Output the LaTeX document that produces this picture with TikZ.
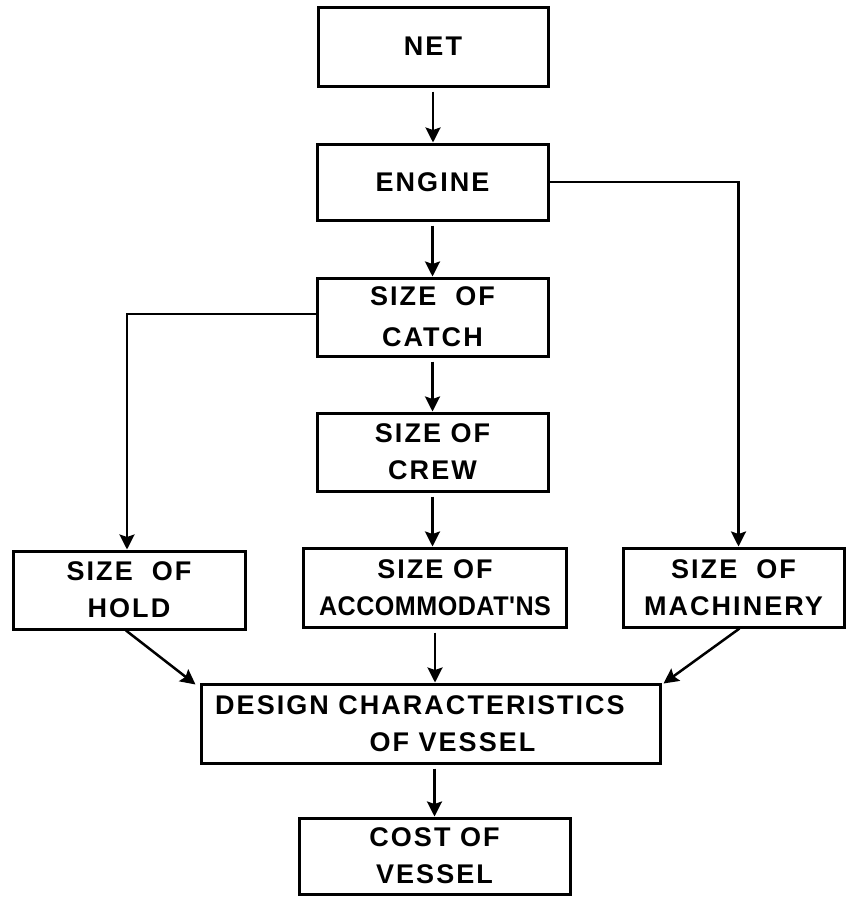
\documentclass[tikz,border=0pt]{standalone}
\usepackage{fontspec}
\newfontfamily\lblfont[LetterSpace=7.5]{Liberation Sans Bold}
\newfontfamily\lblnarrow[LetterSpace=2]{Liberation Sans Bold}
\usetikzlibrary{arrows.meta}
\begin{document}
\begin{tikzpicture}[x=1pt,y=-1pt,
  box/.style={draw, line width=3pt, inner sep=0pt, align=center,
    font={\lblfont\fontsize{27pt}{37pt}\selectfont}},
  arr/.style={line width=2.5pt, -{Stealth[length=15pt,width=15pt,inset=2.5pt]}},
  link/.style={line width=2.5pt}]
\useasboundingbox (0,0) rectangle (847,897);
\node[box, minimum width=230pt, minimum height=79pt] (net) at (433,46.5) {NET};
\node[box, minimum width=231pt, minimum height=76pt] (engine) at (432.5,182) {ENGINE};
\node[box, minimum width=231pt, minimum height=78pt] (catch) at (432.5,317) {SIZE\ \ OF\\[4pt]CATCH};
\node[box, minimum width=231pt, minimum height=78pt] (crew) at (432.5,452) {SIZE OF\\CREW};
\node[box, minimum width=232pt, minimum height=78pt] (hold) at (129,590) {SIZE\ \ OF\\HOLD};
\node[box, minimum width=263pt, minimum height=79pt] (accom) at (435,587.5) {SIZE OF\\\scalebox{0.93}[1]{\lblnarrow ACCOMMODAT'NS}};
\node[box, minimum width=221pt, minimum height=79pt] (mach) at (733.5,587.5) {SIZE\ \ OF\\MACHINERY};
\node[box, minimum width=459pt, minimum height=79pt] (design) at (430.5,723.5) {DESIGN CHARACTERISTICS\hspace*{21pt}\\\hspace*{44pt}OF VESSEL};
\node[box, minimum width=271pt, minimum height=76pt] (cost) at (434.5,856) {COST OF\\VESSEL};
% vertical chain
\draw[arr, shorten <=4pt] (net.south) -- (net.south |- engine.north);
\draw[arr, shorten <=4pt] (engine.south) -- (engine.south |- catch.north);
\draw[arr, shorten <=4pt] (catch.south) -- (catch.south |- crew.north);
\draw[arr, shorten <=4pt] (crew.south) -- (crew.south |- accom.north);
\draw[arr, shorten <=4pt] (accom.south) -- (accom.south |- design.north);
\draw[arr, shorten <=4pt] (cost.north |- design.south) -- (cost.north);
% branches
\draw[arr] (engine.east) -| ([xshift=5pt]mach.north);
\draw[arr] ([yshift=3pt]catch.west) -| ([xshift=-2pt]hold.north);
\draw[arr] ([xshift=-3pt]hold.south) -- ([shift={(-4pt,-2pt)}]design.north west);
\draw[arr] ([xshift=6pt]mach.south) -- ([shift={(2pt,-1pt)}]design.north east);
\end{tikzpicture}
\end{document}
